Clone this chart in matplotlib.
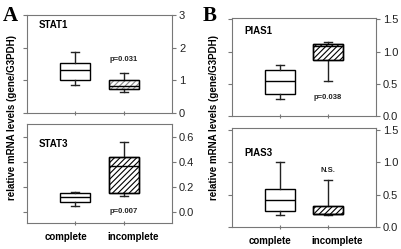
import matplotlib
matplotlib.use("Agg")
import matplotlib.pyplot as plt

plt.rcParams['font.family'] = ['Liberation Sans', 'DejaVu Sans']
plt.rcParams['hatch.linewidth'] = 0.8

groups = ['complete', 'incomplete']

# five-number summaries: whisker low, Q1, median, Q3, whisker high
stat1_complete = [0.86, 1.0, 1.31, 1.53, 1.87]
stat1_incomplete = [0.63, 0.73, 0.83, 1.0, 1.23]
stat3_complete = [0.046, 0.08, 0.12, 0.147, 0.16]
stat3_incomplete = [0.128, 0.152, 0.366, 0.435, 0.56]
pias1_complete = [0.27, 0.34, 0.55, 0.72, 0.79]
pias1_incomplete = [0.54, 0.87, 1.08, 1.11, 1.145]
pias3_complete = [0.18, 0.24, 0.41, 0.59, 1.0]
pias3_incomplete = [0.18, 0.197, 0.2, 0.325, 0.73]

stat1_ticks = [0, 1, 2, 3]
stat3_ticks = [0.0, 0.2, 0.4, 0.6]
pias_ticks = [0.0, 0.5, 1.0, 1.5]

frame = '#777777'


def make_stats(vals, label):
    lo, q1, med, q3, hi = vals
    return dict(whislo=lo, q1=q1, med=med, q3=q3, whishi=hi, fliers=[], label=label)


def panel(rect, comp, incomp, ticks, ylim, fmt, name, name_y, ptext, p_y,
          hatch_color, xlabels=False):
    ax = fig.add_axes(rect)
    bp = ax.bxp([make_stats(comp, groups[0]), make_stats(incomp, groups[1])],
                positions=[1, 2], widths=0.62, patch_artist=True, showfliers=False,
                boxprops=dict(linewidth=1.0, edgecolor='black'),
                medianprops=dict(color='black', linewidth=1.0),
                whiskerprops=dict(color='#222222', linewidth=1.0),
                capprops=dict(color='#222222', linewidth=1.0), capwidths=0.17)
    bp['boxes'][0].set_facecolor('white')
    bp['boxes'][1].set_facecolor('white')
    bp['boxes'][1].set_hatch('//////')
    bp['boxes'][1].set_edgecolor(hatch_color)
    # redraw outline of hatched box in black
    b = bp['boxes'][1]
    ax.add_patch(plt.Polygon(b.get_path().vertices, closed=True, fill=False,
                             edgecolor='black', linewidth=1.0, zorder=3))
    ax.set_xlim(0, 3)
    ax.set_ylim(*ylim)
    for s in ax.spines.values():
        s.set_color(frame)
        s.set_linewidth(0.8)
    ax.yaxis.tick_right()
    ax.set_yticks(ticks)
    ax.set_yticklabels([fmt.format(t) for t in ticks], fontsize=8, color='#222222')
    ax.tick_params(axis='y', which='both', right=True, left=True, direction='out',
                   length=3, color=frame, pad=2)
    ax.tick_params(axis='x', direction='inout', length=3, color=frame)
    ax.set_xticks([1, 2])
    ax.set_xticklabels(['', ''])
    if xlabels:
        for x, g in zip([0.8, 2.2], groups):
            ax.text(x, -0.14, g, transform=ax.get_xaxis_transform(), fontsize=7,
                    fontweight='bold', ha='center', va='center')
    ax.text(0.25, name_y, name, fontsize=7, fontweight='bold')
    ax.text(2.0, p_y, ptext, fontsize=5.5, fontweight='bold', ha='center', va='center',
            color='#222222')
    return ax


fig = plt.figure(figsize=(4.02, 2.49), dpi=100)

panel([0.0672, 0.546, 0.3607, 0.3936], stat1_complete, stat1_incomplete,
      stat1_ticks, (0, 3), '{:.0f}', 'STAT1', 2.6, 'p=0.031', 1.65, '#888888')
panel([0.0672, 0.1044, 0.3607, 0.3976], stat3_complete, stat3_incomplete,
      stat3_ticks, (-0.09, 0.70), '{:.1f}', 'STAT3', 0.52, 'p=0.007', 0.0, 'black',
      xlabels=True)
panel([0.5771, 0.534, 0.3582, 0.3936], pias1_complete, pias1_incomplete,
      pias_ticks, (0, 1.52), '{:.1f}', 'PIAS1', 1.28, 'p=0.038', 0.28, 'black')
panel([0.5771, 0.0884, 0.3582, 0.3976], pias3_complete, pias3_incomplete,
      pias_ticks, (0, 1.53), '{:.1f}', 'PIAS3', 1.1, 'N.S.', 0.87, 'black',
      xlabels=True)

ylab = 'relative mRNA levels (gene/G3PDH)'
fig.text(12 / 402, 0.53, ylab, rotation=90, fontsize=7, fontweight='bold',
         ha='center', va='center')
fig.text(214 / 402, 0.53, ylab, rotation=90, fontsize=7, fontweight='bold',
         ha='center', va='center')
fig.text(3 / 402, 1 - 6 / 249, 'A', fontsize=15, fontweight='bold',
         family='Liberation Serif', ha='left', va='top')
fig.text(203 / 402, 1 - 6 / 249, 'B', fontsize=15, fontweight='bold',
         family='Liberation Serif', ha='left', va='top')

fig.savefig('out.png', dpi=100)
